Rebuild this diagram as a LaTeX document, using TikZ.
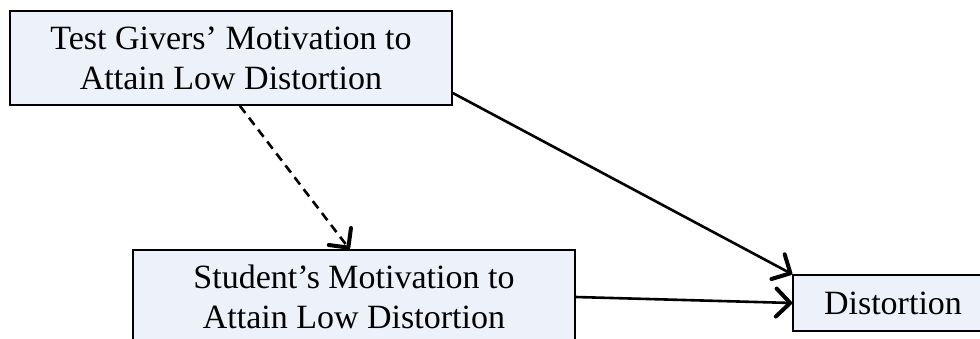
\documentclass[tikz,border=0pt]{standalone}
\usepackage{fontspec}
\setmainfont{Liberation Serif}
\usetikzlibrary{arrows.meta,calc}
\definecolor{boxfill}{RGB}{237,242,250}
\begin{document}
\begin{tikzpicture}[x=1pt,y=-1pt,
  box/.style={draw=black,line width=1.6pt,fill=boxfill,align=center,
    inner sep=0pt,font=\fontsize{34}{40}\selectfont},
  conn/.style={line width=2.6pt,-{Straight Barb[length=14pt,width=28pt,line width=4pt,round]}}]
\useasboundingbox (0,0) rectangle (980,338);
\node[box,minimum width=442pt,minimum height=94pt] (top) at (231,58)
  {Test Givers’ Motivation to\\Attain Low Distortion};
\node[box,minimum width=442pt,minimum height=94pt] (stu) at (354,297)
  {Student’s Motivation to\\Attain Low Distortion};
\node[box,minimum width=200pt,minimum height=56pt] (dis) at (893,303)
  {Distortion};
\draw[conn,dashed,dash pattern=on 9pt off 6pt]
  ($(top.south west)!0.52!(top.south east)$) -- ($(stu.north west)!0.49!(stu.north east)$);
\draw[conn] ($(top.east)+(0,35)$) -- (dis.north west);
\draw[conn] (stu.east) -- (dis.west);
\end{tikzpicture}
\end{document}
